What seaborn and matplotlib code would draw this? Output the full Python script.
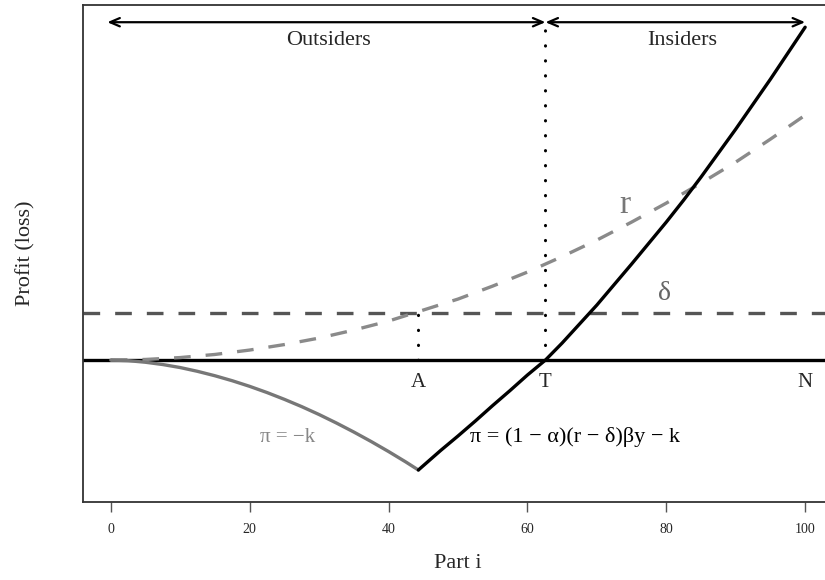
import matplotlib
matplotlib.use("Agg")
import matplotlib.pyplot as plt
import seaborn as sns

sns.set_style("white")
plt.rcParams["font.family"] = ["Liberation Serif", "DejaVu Serif"]

# values (x = part i, y = profit in arbitrary units)
loss_x = [0, 2.5, 5, 7.5, 10, 12.5, 15, 17.5, 20, 22.5, 25, 27.5, 30,
          32.5, 35, 37.5, 40, 42.5, 44.3]
loss_y = [0, -0.6, -2.2, -4.5, -7.5, -11.3, -15.7, -20.7, -26.3, -32.5, -39.3,
          -46.6, -54.5, -63, -72, -81.5, -91.5, -102, -110]

profit_x = [44.3, 47.5, 50, 52.5, 55, 57.5, 60, 62.6, 65, 67.5, 70, 72.5, 75,
            77.5, 80, 82.5, 85, 87.5, 90, 92.5, 95, 97.5, 100]
profit_y = [-110, -90.5, -76, -61, -45.5, -30.5, -15, 0, 17, 36, 55, 75.5, 96,
            117, 138, 160, 183, 207, 231, 256, 281, 307, 333]

r_x = [0, 5, 10, 15, 20, 25, 30, 35, 40, 45, 50, 55, 60, 65, 70, 75, 80,
       85, 90, 95, 100]
r_y = [0, 0.6, 2.5, 5.6, 10, 15.5, 22, 30, 39, 50, 61, 74, 88, 103.5, 120,
       138, 157, 177, 198, 221, 245]

delta = 47
point_a = 44.3
point_t = 62.6
point_n = 100
arrow_y = 338
x_ticks = [0, 20, 40, 60, 80, 100]

fig = plt.figure(figsize=(8.25, 5.8), dpi=100)
ax = fig.add_axes([0.1006, 0.1345, 0.909, 0.8565])

ax.axhline(0, color="black", lw=2.4, zorder=2)
ax.axhline(delta, color="#555555", lw=2.4, linestyle=(0, (5, 4.5)), zorder=2)

sns.lineplot(x=r_x, y=r_y, ax=ax, color="#8a8a8a", lw=2.4,
             linestyle=(0, (5, 4.5)), zorder=3)
sns.lineplot(x=loss_x, y=loss_y, ax=ax, color="#777777", lw=2.4, zorder=3)
sns.lineplot(x=profit_x, y=profit_y, ax=ax, color="black", lw=2.4, zorder=4)

# dotted guides
ax.vlines(point_a, 0, delta, color="black", lw=2.2,
          linestyles=[(0, (0.1, 4.8))], zorder=3)
ax.vlines(point_t, 0, arrow_y - 8, color="black", lw=2.2,
          linestyles=[(0, (0.1, 4.8))], zorder=3)
for ln in ax.collections:
    ln.set_capstyle("round")

# arrows along the top
arrow_kw = dict(arrowstyle="<->,head_length=0.7,head_width=0.3", color="black", lw=1.6,
                shrinkA=0, shrinkB=0)
ax.annotate("", xy=(-0.5, arrow_y), xytext=(point_t, arrow_y), arrowprops=arrow_kw)
ax.annotate("", xy=(point_t, arrow_y), xytext=(point_n, arrow_y), arrowprops=arrow_kw)
ax.text(point_t / 2, 320, "Outsiders", ha="center", va="center", fontsize=16)
ax.text((point_t + point_n) / 2 + 1, 320, "Insiders", ha="center", va="center", fontsize=16)

# point labels
for xv, lab in [(point_a, "A"), (point_t, "T"), (point_n, "N")]:
    ax.text(xv, -22, lab, ha="center", va="center", fontsize=15)

ax.text(74.1, 155, "r", color="#777777", fontsize=24, ha="center", va="center")
ax.text(79.8, 67, "δ", color="#666666", fontsize=20, ha="center", va="center")
ax.text(25.5, -77, "π = −k", color="#888888", fontsize=15, ha="center", va="center")
ax.text(51.7, -77, "π = (1 − α)(r − δ)βy − k", color="black", fontsize=16,
        ha="left", va="center")

ax.set_xlim(-4, 104)
ax.set_ylim(-142, 355)
ax.set_xticks(x_ticks)
ax.set_xticklabels([str(t) for t in x_ticks])
ax.set_yticks([])
ax.tick_params(axis="x", direction="out", length=7, width=1, color="#555555",
               labelsize=10, pad=8, bottom=True)
for sp in ax.spines.values():
    sp.set_visible(True)
    sp.set_color("#333333")
    sp.set_linewidth(1.3)

ax.set_xlabel("Part i", fontsize=16, labelpad=13)
ax.set_ylabel("Profit (loss)", fontsize=16, labelpad=34)

fig.savefig("out.png", dpi=100)
